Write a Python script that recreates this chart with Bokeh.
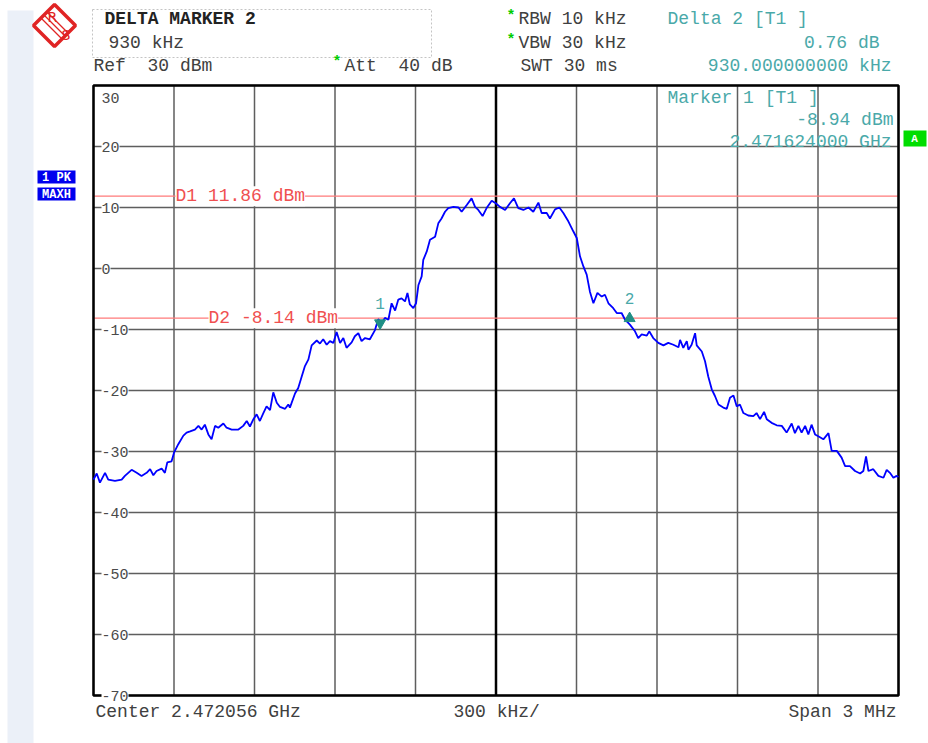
from bokeh.plotting import figure
from bokeh.models import (Range1d, Label, BoxAnnotation,
                          PolyAnnotation, ColumnDataSource)
from bokeh.embed import file_html
from bokeh.resources import INLINE

# ---------------- data ----------------
# frequency offset from centre (kHz), trace level (dBm)
freq_khz = [
    -1500, -1488, -1476, -1457, -1445, -1420, -1395, -1383, -1358, -1339,
    -1321, -1302, -1289, -1277, -1265, -1246, -1234, -1225, -1209, -1200,
    -1184, -1165, -1153, -1140, -1122, -1109, -1097, -1085, -1072, -1060,
    -1047, -1035, -1016, -1004, -985, -960, -942, -929, -917, -904,
    -892, -880, -867, -855, -842, -830, -817, -805, -786, -774,
    -768, -749, -737, -724, -712, -699, -687, -668, -656, -644,
    -631, -619, -606, -594, -581, -569, -557, -538, -526, -513,
    -501, -488, -470, -451, -439, -426, -414, -401, -389, -376,
    -364, -352, -339, -330, -321, -308, -298, -289, -277, -271,
    -258, -246, -227, -215, -203, -190, -178, -159, -140, -128,
    -109, -91, -78, -66, -50, -35, -16, -1, 15, 34,
    52, 67, 83, 102, 121, 139, 158, 170, 189, 201,
    220, 236, 251, 270, 288, 301, 313, 326, 338, 350,
    363, 378, 394, 406, 419, 437, 450, 468, 481, 499,
    518, 530, 543, 562, 571, 586, 605, 624, 642, 661,
    680, 686, 698, 711, 717, 729, 742, 748, 767, 779,
    791, 804, 816, 829, 847, 860, 872, 885, 897, 909,
    922, 940, 959, 971, 984, 999, 1009, 1027, 1046, 1065,
    1083, 1102, 1114, 1127, 1139, 1152, 1164, 1176, 1189, 1201,
    1220, 1239, 1251, 1270, 1288, 1301, 1319, 1338, 1357, 1369,
    1379, 1388, 1406, 1425, 1444, 1456, 1468, 1481, 1493, 1500,
]
level_dbm = [
    -34.6, -33.6, -35.1, -33.5, -34.6, -34.8, -34.6, -34.0, -33.0, -33.5,
    -34.0, -33.5, -32.9, -33.9, -33.2, -32.8, -33.5, -31.8, -31.6, -30.2,
    -28.8, -27.4, -26.9, -26.7, -26.4, -25.8, -26.4, -25.6, -27.2, -28.0,
    -25.8, -26.1, -25.4, -26.1, -26.4, -26.4, -25.8, -25.0, -25.9, -24.7,
    -23.9, -25.0, -23.7, -22.6, -23.2, -20.3, -22.0, -22.7, -23.0, -22.3,
    -22.8, -20.5, -19.6, -17.7, -16.0, -14.9, -12.6, -11.8, -12.3, -11.6,
    -12.5, -11.9, -12.2, -10.4, -12.2, -11.4, -13.0, -12.1, -11.1, -10.6,
    -11.9, -11.4, -11.6, -10.1, -8.3, -8.9, -8.1, -8.4, -5.7, -6.9,
    -5.1, -4.9, -5.4, -4.0, -5.9, -6.5, -5.7, -2.7, -1.3, 1.4,
    2.8, 4.7, 5.2, 7.4, 8.2, 9.3, 9.9, 10.1, 10.0, 9.3,
    10.4, 11.5, 10.1, 9.6, 8.6, 9.9, 11.1, 10.7, 10.1, 9.6,
    10.7, 11.5, 9.9, 9.6, 10.0, 9.3, 10.8, 9.1, 9.1, 8.2,
    9.7, 10.0, 9.1, 7.7, 6.1, 5.0, 2.0, 0.3, -1.0, -3.8,
    -5.7, -4.0, -4.6, -4.3, -5.7, -6.5, -7.3, -7.3, -8.4, -9.2,
    -10.3, -11.4, -10.8, -11.0, -10.3, -11.4, -12.2, -12.6, -12.2, -12.5,
    -12.9, -11.7, -13.0, -11.9, -13.3, -12.5, -10.6, -12.6, -13.6, -15.2,
    -17.7, -19.8, -20.9, -22.3, -22.8, -23.0, -21.2, -20.8, -22.6, -22.3,
    -23.7, -24.1, -24.2, -23.7, -24.7, -23.5, -24.7, -25.3, -25.7, -25.8,
    -26.9, -25.4, -27.0, -25.8, -26.9, -25.8, -27.2, -25.6, -27.2, -27.5,
    -28.0, -27.0, -29.9, -29.9, -31.0, -32.4, -32.4, -33.2, -33.6, -33.2,
    -30.8, -33.2, -32.9, -34.0, -34.3, -33.0, -33.5, -34.3, -34.0, -34.2,
]

x_ticks = [-1500, -1200, -900, -600, -300, 0, 300, 600, 900, 1200, 1500]
y_ticks = [30, 20, 10, 0, -10, -20, -30, -40, -50, -60, -70]
y_tick_labels = ["30", "20", "10", "0", "-10", "-20", "-30", "-40", "-50", "-60", "-70"]

display_line_names = ["D1", "D2"]
display_line_levels = [11.86, -8.14]

marker_names = ["1", "2"]
marker_freq_khz = [-432, 498]
marker_level_dbm = [-8.94, -8.18]
marker_shapes = ["inverted_triangle", "triangle"]

# ---------------- styling ----------------
MONO = "Liberation Mono"
DARK = "#404040"
TEAL = "#4aa9a9"
MARK = "#1f8f86"
RED_LINE = "#ff7a7a"
RED_TXT = "#f05050"
GREEN = "#00cc00"
GRID = "#5e5e5e"
LOGO = "#e02424"
FS = "18px"
NB = "\u00a0"   # non-breaking space keeps double spaces in SVG text

W, H = 928, 743
FL, FT, FR, FB = 93, 85, 898, 695   # grid area edges in canvas pixels

x0, x1 = x_ticks[0], x_ticks[-1]
y0, y1 = y_ticks[-1], y_ticks[0]
kx = (x1 - x0) / (FR - FL)
ky = (y1 - y0) / (FB - FT)

# the frame covers the whole canvas; the grid area sits inside it
p = figure(width=W, height=H, output_backend="svg", toolbar_location=None,
           x_range=Range1d(x0 - FL * kx, x1 + (W - FR) * kx),
           y_range=Range1d(y0 - (H - FB) * ky, y1 + FT * ky),
           x_axis_type=None, y_axis_type=None, min_border=0)
p.outline_line_color = None
p.background_fill_color = "white"
p.border_fill_color = "white"


def sx(px):
    return px


def sy(py):
    return H - py


def txt(text, px, py, color=DARK, size=FS, align="left", style="normal",
        bg=None, font=MONO):
    p.add_layout(Label(x=sx(px), y=sy(py), x_units="screen", y_units="screen",
                       text=text.replace("  ", NB + NB), text_font=font,
                       text_font_size=size, text_color=color, text_align=align,
                       text_baseline="middle", text_font_style=style,
                       background_fill_color=bg))


def box(l, t, r, b, fill=None, line=None, dash="solid", lw=1):
    p.add_layout(BoxAnnotation(left=sx(l), right=sx(r), top=sy(t), bottom=sy(b),
                               left_units="screen", right_units="screen",
                               top_units="screen", bottom_units="screen",
                               fill_color=fill, fill_alpha=1.0 if fill else 0.0,
                               line_color=line, line_alpha=1.0, line_dash=dash,
                               line_width=lw, level="underlay"))


def poly(xs, ys, fill=None, line=LOGO, lw=1):
    p.add_layout(PolyAnnotation(xs=[sx(v) for v in xs], ys=[sy(v) for v in ys],
                                xs_units="screen", ys_units="screen",
                                fill_color=fill, fill_alpha=1.0 if fill else 0.0,
                                line_color=line, line_alpha=1.0, line_width=lw))


# left strip and header box
box(7, 10, 33, 760, fill="#ebf0f8")
box(92, 9, 431, 57, line="#c4c4c4", dash="2 2")

# grid
p.segment(x0=x_ticks, y0=[y0] * len(x_ticks), x1=x_ticks, y1=[y1] * len(x_ticks),
          line_color=GRID, line_width=1.5)
p.segment(x0=[x0] * len(y_ticks), y0=y_ticks, x1=[x1] * len(y_ticks), y1=y_ticks,
          line_color=GRID, line_width=1.5)
p.segment(x0=[x_ticks[5]], y0=[y0], x1=[x_ticks[5]], y1=[y1],
          line_color="black", line_width=2.5)

# display lines
p.segment(x0=[x0] * 2, y0=display_line_levels, x1=[x1] * 2, y1=display_line_levels,
          line_color=RED_LINE, line_width=1.2)

# outline of the grid area
p.quad(left=[x0], right=[x1], bottom=[y0], top=[y1], fill_alpha=0,
       line_color="black", line_width=2.5)

for name, lvl, px in zip(display_line_names, display_line_levels, (175, 208)):
    p.add_layout(Label(x=sx(px), y=lvl, x_units="screen",
                       text=f"{name} {lvl:.2f} dBm",
                       text_font=MONO, text_font_size=FS, text_color=RED_TXT,
                       text_baseline="middle", background_fill_color="white"))

# y tick labels inside the grid area
for v, lab in zip(y_ticks, y_tick_labels):
    p.add_layout(Label(x=sx(101), y=v, x_units="screen", text=lab,
                       y_offset=-12 if v == y_ticks[0] else 0,
                       text_font=MONO, text_font_size="15px", text_color="#4a4a4a",
                       text_baseline="middle",
                       background_fill_color=None if v == y_ticks[0] else "white"))

# trace
src = ColumnDataSource(dict(f=freq_khz, lvl=level_dbm))
p.line("f", "lvl", source=src, line_color="#0000ff", line_width=1.8)

# markers
msrc = ColumnDataSource(dict(f=marker_freq_khz, lvl=marker_level_dbm, m=marker_shapes))
p.scatter("f", "lvl", source=msrc, marker="m", size=11, fill_color=MARK,
          line_color=MARK)
for name, f, lvl in zip(marker_names, marker_freq_khz, marker_level_dbm):
    p.add_layout(Label(x=f, y=lvl, y_offset=20, text=name, text_font=MONO,
                       text_font_size="16px", text_color=TEAL, text_align="center",
                       text_baseline="middle"))

# ---------------- header / footer texts ----------------
txt("DELTA MARKER 2", 104, 18, color="#222222", style="bold")
txt("930 kHz", 108, 42)
txt("Ref  30 dBm", 93, 65)
txt("*", 332, 62, color=GREEN, size="15px", style="bold")
txt("Att  40 dB", 344, 65)
txt("*", 506, 16, color=GREEN, size="15px", style="bold")
txt("RBW 10 kHz", 518, 18)
txt("*", 506, 40, color=GREEN, size="15px", style="bold")
txt("VBW 30 kHz", 518, 42)
txt("SWT 30 ms", 520, 65)
txt("Delta 2 [T1 ]", 667, 18, color=TEAL)
txt("0.76 dB", 879, 42, color=TEAL, align="right")
txt("930.000000000 kHz", 891, 65, color=TEAL, align="right")

txt("Marker 1 [T1 ]", 667, 97, color=TEAL)
txt("-8.94 dBm", 893, 119, color=TEAL, align="right")
txt("2.471624000 GHz", 891, 141, color=TEAL, align="right")

box(903, 130, 926, 146, fill="#00dd00")
txt("A", 914, 138, color="white", size="11px", align="center", style="bold")

box(37, 170, 75, 183, fill="#0000ee")
txt("1 PK", 56, 177, color="white", size="12px", align="center", style="bold")
box(37, 187, 75, 200, fill="#0000ee")
txt("MAXH", 56, 194, color="white", size="12px", align="center", style="bold")

txt("Center 2.472056 GHz", 95, 711)
txt("300 kHz/", 453, 711)
txt("Span 3 MHz", 896, 711, align="right")

# R&S logo
poly([33, 54, 75, 54], [25, 4, 25, 46], fill="white", lw=3.5)
for d in (-3, 0, 3):
    poly([44 + d, 64 + d], [15 - d, 35 - d], lw=1.2)
txt("R", 47, 16, color=LOGO, size="14px", font="DejaVu Sans")
txt("S", 61, 34, color=LOGO, size="14px", font="DejaVu Sans")

open("out.html", "w").write(file_html(p, INLINE))
